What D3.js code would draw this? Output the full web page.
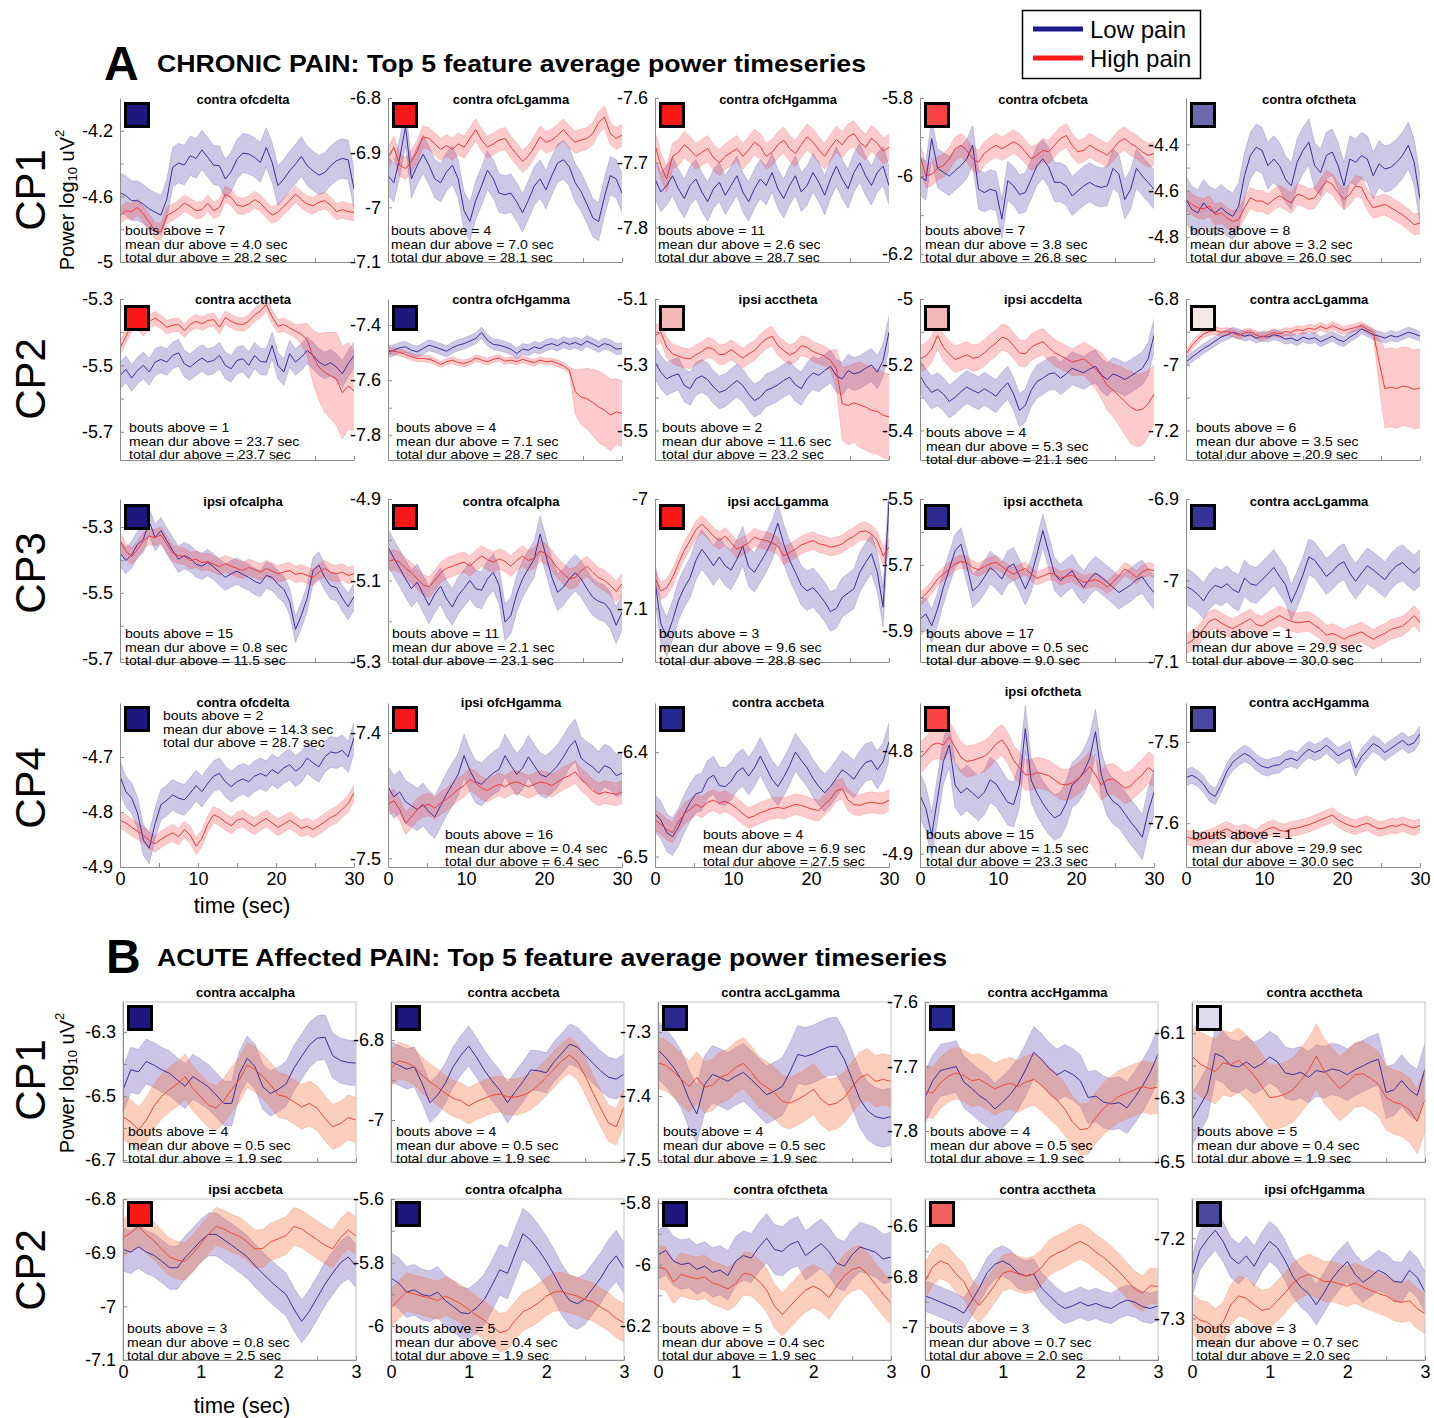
<!DOCTYPE html>
<html>
<head>
<meta charset="utf-8">
<title>Top 5 feature average power timeseries</title>
<script src="https://cdn.jsdelivr.net/npm/d3@7/dist/d3.min.js"></script>
<style>
  body { margin: 0; background: #fff; }
  svg text { font-family: "Liberation Sans", Arial, Helvetica, sans-serif; }
</style>
</head>
<body>
<svg id="chart" width="1434" height="1418"></svg>
<script>
// sample times (sec)
const timeChronic = [0,0.75,1.5,2.25,3,3.75,4.5,5.25,6,6.75,7.5,8.25,9,9.75,10.5,11.25,12,12.75,13.5,14.25,15,15.75,16.5,17.25,18,18.75,19.5,20.25,21,21.75,22.5,23.25,24,24.75,25.5,26.25,27,27.75,28.5,29.25,30];
const timeAcute = [0,0.1,0.2,0.3,0.4,0.5,0.6,0.7,0.8,0.9,1,1.1,1.2,1.3,1.4,1.5,1.6,1.7,1.8,1.9,2,2.1,2.2,2.3,2.4,2.5,2.6,2.7,2.8,2.9,3];

// ---- A: chronic pain, rows CP1..CP4, five features each ----
const chronicFeatures = [
  'contra ofcdelta','contra ofcLgamma','contra ofcHgamma','contra ofcbeta','contra ofctheta',
  'contra acctheta','contra ofcHgamma','ipsi acctheta','ipsi accdelta','contra accLgamma',
  'ipsi ofcalpha','contra ofcalpha','ipsi accLgamma','ipsi acctheta','contra accLgamma',
  'contra ofcdelta','ipsi ofcHgamma','contra accbeta','ipsi ofctheta','contra accHgamma'];
const chronicBouts = [7,4,11,7,8, 1,4,2,4,6, 15,11,3,17,1, 2,16,4,15,1];
const chronicMeanDur = ['4.0','7.0','2.6','3.8','3.2', '23.7','7.1','11.6','5.3','3.5', '0.8','2.1','9.6','0.5','29.9', '14.3','0.4','6.9','1.5','29.9'];
const chronicTotalDur = ['28.2','28.1','28.7','26.8','26.0', '23.7','28.7','23.2','21.1','20.9', '11.5','23.1','28.8','9.0','30.0', '28.7','6.4','27.5','23.3','30.0'];
const chronicYTicks = [
  [-4.2,-4.6,-5],[-6.8,-6.9,-7,-7.1],[-7.6,-7.7,-7.8],[-5.8,-6,-6.2],[-4.4,-4.6,-4.8],
  [-5.3,-5.5,-5.7],[-7.4,-7.6,-7.8],[-5.1,-5.3,-5.5],[-5,-5.2,-5.4],[-6.8,-7,-7.2],
  [-5.3,-5.5,-5.7],[-4.9,-5.1,-5.3],[-7,-7.1],[-5.5,-5.7,-5.9],[-6.9,-7,-7.1],
  [-4.7,-4.8,-4.9],[-7.4,-7.5],[-6.4,-6.5],[-4.8,-4.9],[-7.5,-7.6]];
const chronicYLimits = [
  [-5,-4.0],[-7.1,-6.8],[-7.853,-7.6],[-6.22,-5.8],[-4.907,-4.2],
  [-5.785,-5.3],[-7.89,-7.305],[-5.59,-5.1],[-5.49,-5.0],[-7.29,-6.8],
  [-5.71,-5.215],[-5.3,-4.9],[-7.149,-7.0],[-5.995,-5.5],[-7.1,-6.9],
  [-4.9,-4.602],[-7.507,-7.376],[-6.51,-6.353],[-4.913,-4.753],[-7.654,-7.452]];

// CP1
const chr11Low = [-4.576,-4.596,-4.626,-4.626,-4.647,-4.677,-4.697,-4.714,-4.616,-4.423,-4.397,-4.409,-4.352,-4.369,-4.316,-4.362,-4.409,-4.413,-4.494,-4.45,-4.373,-4.336,-4.342,-4.362,-4.393,-4.302,-4.393,-4.535,-4.494,-4.444,-4.403,-4.356,-4.413,-4.444,-4.47,-4.454,-4.413,-4.383,-4.369,-4.377,-4.555];
const chr11High = [-4.718,-4.687,-4.693,-4.667,-4.708,-4.758,-4.809,-4.815,-4.718,-4.697,-4.673,-4.641,-4.661,-4.687,-4.681,-4.641,-4.687,-4.667,-4.586,-4.606,-4.653,-4.661,-4.647,-4.62,-4.641,-4.681,-4.714,-4.697,-4.661,-4.626,-4.586,-4.62,-4.647,-4.657,-4.636,-4.626,-4.653,-4.693,-4.681,-4.693,-4.697];
const chr12Low = [-6.942,-6.955,-6.910,-6.852,-6.948,-6.923,-6.903,-6.923,-6.948,-6.955,-6.935,-6.923,-6.948,-7.006,-7.026,-6.987,-6.961,-6.932,-6.948,-6.974,-6.977,-6.974,-6.990,-7.010,-6.987,-6.961,-6.948,-6.968,-6.942,-6.919,-6.913,-6.926,-6.955,-6.971,-6.994,-7.019,-7.026,-6.981,-6.942,-6.948,-6.974];
const chr12High = [-6.910,-6.890,-6.923,-6.929,-6.916,-6.897,-6.871,-6.874,-6.884,-6.894,-6.887,-6.894,-6.884,-6.890,-6.874,-6.858,-6.877,-6.890,-6.884,-6.877,-6.874,-6.890,-6.903,-6.916,-6.906,-6.890,-6.871,-6.881,-6.877,-6.868,-6.858,-6.871,-6.881,-6.877,-6.874,-6.865,-6.845,-6.835,-6.865,-6.874,-6.868];
const chr13Low = [-7.725,-7.745,-7.735,-7.720,-7.740,-7.755,-7.735,-7.725,-7.745,-7.760,-7.740,-7.730,-7.750,-7.735,-7.720,-7.745,-7.760,-7.740,-7.725,-7.735,-7.715,-7.740,-7.755,-7.735,-7.720,-7.745,-7.735,-7.715,-7.730,-7.750,-7.725,-7.705,-7.725,-7.740,-7.715,-7.700,-7.720,-7.735,-7.715,-7.705,-7.735];
const chr13High = [-7.672,-7.705,-7.725,-7.690,-7.684,-7.672,-7.680,-7.690,-7.684,-7.678,-7.692,-7.700,-7.690,-7.684,-7.678,-7.690,-7.680,-7.668,-7.675,-7.690,-7.684,-7.672,-7.665,-7.678,-7.686,-7.672,-7.660,-7.668,-7.680,-7.690,-7.676,-7.664,-7.672,-7.660,-7.655,-7.668,-7.676,-7.662,-7.670,-7.682,-7.676];
const chr14Low = [-6.0,-6.012,-5.904,-5.98,-5.99,-6.0,-5.986,-5.973,-5.956,-5.921,-6.034,-6.042,-6.034,-6.038,-6.11,-6.012,-6.025,-6.047,-6.042,-6.008,-5.973,-5.956,-5.977,-6.016,-6.016,-6.025,-6.051,-6.038,-6.025,-6.016,-6.025,-6.029,-6.025,-5.98,-5.995,-6.06,-6.034,-5.98,-6.0,-6.016,-6.034];
const chr14High = [-5.947,-6.0,-5.995,-5.98,-5.973,-5.956,-5.93,-5.921,-5.934,-5.956,-5.964,-5.942,-5.93,-5.921,-5.93,-5.921,-5.912,-5.921,-5.938,-5.956,-5.947,-5.934,-5.938,-5.921,-5.904,-5.896,-5.921,-5.938,-5.934,-5.921,-5.93,-5.938,-5.947,-5.93,-5.912,-5.904,-5.917,-5.925,-5.938,-5.947,-5.942];
const chr15Low = [-4.637,-4.681,-4.695,-4.652,-4.681,-4.695,-4.673,-4.695,-4.71,-4.666,-4.535,-4.448,-4.412,-4.426,-4.492,-4.463,-4.492,-4.55,-4.579,-4.477,-4.426,-4.39,-4.492,-4.521,-4.448,-4.433,-4.492,-4.579,-4.463,-4.477,-4.448,-4.463,-4.535,-4.484,-4.506,-4.499,-4.477,-4.448,-4.404,-4.477,-4.637];
const chr15High = [-4.637,-4.659,-4.673,-4.678,-4.666,-4.703,-4.695,-4.717,-4.732,-4.724,-4.673,-4.63,-4.644,-4.644,-4.659,-4.637,-4.622,-4.637,-4.652,-4.615,-4.622,-4.637,-4.63,-4.593,-4.557,-4.572,-4.608,-4.637,-4.615,-4.579,-4.586,-4.637,-4.673,-4.666,-4.659,-4.673,-4.688,-4.703,-4.724,-4.746,-4.739];
// CP2
const chr21Low = [-5.531,-5.512,-5.538,-5.515,-5.5,-5.52,-5.49,-5.482,-5.49,-5.47,-5.462,-5.495,-5.505,-5.49,-5.478,-5.49,-5.485,-5.47,-5.5,-5.51,-5.485,-5.48,-5.5,-5.47,-5.488,-5.49,-5.44,-5.5,-5.52,-5.465,-5.49,-5.475,-5.455,-5.47,-5.49,-5.5,-5.492,-5.505,-5.525,-5.495,-5.47];
const chr21High = [-5.449,-5.413,-5.377,-5.372,-5.392,-5.367,-5.358,-5.369,-5.385,-5.379,-5.377,-5.395,-5.377,-5.367,-5.375,-5.365,-5.362,-5.385,-5.356,-5.367,-5.375,-5.377,-5.367,-5.348,-5.336,-5.317,-5.354,-5.382,-5.377,-5.387,-5.397,-5.406,-5.423,-5.474,-5.505,-5.521,-5.531,-5.541,-5.582,-5.562,-5.577];
const chr22Low = [-7.497,-7.491,-7.482,-7.479,-7.491,-7.497,-7.485,-7.473,-7.479,-7.487,-7.495,-7.482,-7.473,-7.467,-7.458,-7.448,-7.427,-7.455,-7.470,-7.473,-7.479,-7.487,-7.503,-7.487,-7.491,-7.479,-7.485,-7.473,-7.467,-7.475,-7.461,-7.470,-7.463,-7.473,-7.458,-7.468,-7.479,-7.467,-7.473,-7.487,-7.485];
const chr22High = [-7.491,-7.495,-7.499,-7.507,-7.515,-7.521,-7.521,-7.524,-7.531,-7.543,-7.533,-7.527,-7.536,-7.539,-7.533,-7.519,-7.527,-7.533,-7.524,-7.519,-7.531,-7.527,-7.533,-7.524,-7.531,-7.536,-7.527,-7.533,-7.531,-7.539,-7.548,-7.564,-7.642,-7.661,-7.667,-7.681,-7.697,-7.709,-7.727,-7.715,-7.721];
const chr23Low = [-5.292,-5.323,-5.343,-5.334,-5.328,-5.363,-5.373,-5.343,-5.334,-5.345,-5.368,-5.384,-5.378,-5.363,-5.348,-5.363,-5.389,-5.409,-5.399,-5.378,-5.371,-5.361,-5.348,-5.338,-5.361,-5.373,-5.343,-5.325,-5.332,-5.318,-5.305,-5.334,-5.343,-5.318,-5.328,-5.323,-5.311,-5.301,-5.323,-5.287,-5.201];
const chr23High = [-5.211,-5.201,-5.247,-5.267,-5.274,-5.28,-5.282,-5.27,-5.26,-5.247,-5.253,-5.27,-5.267,-5.254,-5.267,-5.28,-5.267,-5.257,-5.237,-5.222,-5.213,-5.242,-5.257,-5.27,-5.262,-5.242,-5.247,-5.26,-5.267,-5.274,-5.287,-5.313,-5.419,-5.424,-5.416,-5.422,-5.429,-5.439,-5.442,-5.454,-5.459];
const chr24Low = [-5.233,-5.263,-5.284,-5.275,-5.289,-5.312,-5.299,-5.282,-5.268,-5.278,-5.286,-5.273,-5.284,-5.296,-5.273,-5.255,-5.289,-5.339,-5.324,-5.278,-5.251,-5.241,-5.228,-5.225,-5.241,-5.228,-5.211,-5.218,-5.225,-5.213,-5.205,-5.231,-5.245,-5.228,-5.235,-5.245,-5.235,-5.223,-5.211,-5.182,-5.111];
const chr24High = [-5.182,-5.174,-5.152,-5.111,-5.147,-5.167,-5.184,-5.177,-5.17,-5.18,-5.177,-5.164,-5.147,-5.134,-5.116,-5.122,-5.142,-5.164,-5.167,-5.147,-5.137,-5.13,-5.147,-5.164,-5.172,-5.182,-5.192,-5.187,-5.182,-5.197,-5.213,-5.233,-5.263,-5.278,-5.294,-5.312,-5.329,-5.339,-5.336,-5.319,-5.289];
const chr25Low = [-6.992,-6.977,-6.964,-6.951,-6.94,-6.928,-6.916,-6.909,-6.901,-6.906,-6.913,-6.909,-6.919,-6.913,-6.916,-6.909,-6.913,-6.922,-6.919,-6.927,-6.916,-6.922,-6.918,-6.93,-6.922,-6.913,-6.924,-6.93,-6.916,-6.906,-6.891,-6.899,-6.909,-6.913,-6.919,-6.911,-6.916,-6.909,-6.901,-6.906,-6.913];
const chr25High = [-6.967,-6.942,-6.922,-6.906,-6.899,-6.896,-6.901,-6.899,-6.903,-6.911,-6.903,-6.901,-6.909,-6.916,-6.909,-6.903,-6.906,-6.899,-6.901,-6.893,-6.896,-6.889,-6.893,-6.883,-6.891,-6.881,-6.889,-6.896,-6.891,-6.886,-6.881,-6.893,-6.901,-6.99,-7.073,-7.068,-7.073,-7.065,-7.068,-7.075,-7.071];
// CP3
const chr31Low = [-5.379,-5.402,-5.384,-5.353,-5.337,-5.284,-5.332,-5.311,-5.342,-5.371,-5.398,-5.387,-5.395,-5.413,-5.419,-5.408,-5.421,-5.437,-5.453,-5.442,-5.434,-5.444,-5.453,-5.465,-5.472,-5.447,-5.453,-5.474,-5.489,-5.526,-5.611,-5.568,-5.516,-5.432,-5.416,-5.453,-5.479,-5.484,-5.516,-5.542,-5.511];
const chr31High = [-5.342,-5.374,-5.389,-5.368,-5.342,-5.328,-5.332,-5.324,-5.353,-5.379,-5.387,-5.389,-5.402,-5.398,-5.408,-5.405,-5.413,-5.421,-5.411,-5.419,-5.426,-5.432,-5.423,-5.429,-5.437,-5.426,-5.434,-5.442,-5.437,-5.432,-5.444,-5.44,-5.447,-5.453,-5.437,-5.426,-5.437,-5.442,-5.437,-5.447,-5.442];
const chr32Low = [-5.018,-5.045,-5.07,-5.096,-5.12,-5.104,-5.133,-5.161,-5.133,-5.114,-5.145,-5.165,-5.137,-5.119,-5.1,-5.12,-5.124,-5.096,-5.08,-5.112,-5.202,-5.186,-5.133,-5.096,-5.071,-5.047,-4.986,-5.039,-5.092,-5.129,-5.116,-5.096,-5.081,-5.096,-5.12,-5.141,-5.151,-5.156,-5.173,-5.21,-5.178];
const chr32High = [-5.053,-5.049,-5.055,-5.07,-5.081,-5.096,-5.111,-5.116,-5.1,-5.081,-5.07,-5.065,-5.059,-5.055,-5.065,-5.051,-5.04,-5.049,-5.055,-5.047,-5.053,-5.065,-5.051,-5.04,-5.051,-5.045,-5.027,-5.035,-5.051,-5.07,-5.084,-5.096,-5.093,-5.076,-5.065,-5.08,-5.093,-5.1,-5.112,-5.127,-5.108];
const chr33Low = [-7.075,-7.114,-7.126,-7.111,-7.093,-7.081,-7.072,-7.056,-7.046,-7.053,-7.061,-7.053,-7.061,-7.065,-7.055,-7.043,-7.062,-7.067,-7.058,-7.049,-7.038,-7.022,-7.041,-7.056,-7.067,-7.079,-7.084,-7.081,-7.087,-7.094,-7.103,-7.1,-7.09,-7.086,-7.082,-7.067,-7.058,-7.05,-7.067,-7.099,-7.002];
const chr33High = [-7.072,-7.084,-7.081,-7.072,-7.059,-7.047,-7.038,-7.028,-7.023,-7.028,-7.034,-7.038,-7.034,-7.04,-7.046,-7.043,-7.04,-7.035,-7.037,-7.038,-7.04,-7.043,-7.052,-7.049,-7.046,-7.042,-7.04,-7.038,-7.041,-7.042,-7.044,-7.043,-7.041,-7.037,-7.034,-7.03,-7.029,-7.032,-7.038,-7.052,-7.044];
const chr34Low = [-5.865,-5.849,-5.885,-5.834,-5.768,-5.713,-5.657,-5.637,-5.703,-5.779,-5.763,-5.738,-5.708,-5.723,-5.743,-5.708,-5.697,-5.733,-5.773,-5.733,-5.667,-5.596,-5.662,-5.728,-5.748,-5.733,-5.718,-5.748,-5.768,-5.743,-5.725,-5.738,-5.753,-5.768,-5.784,-5.773,-5.761,-5.745,-5.736,-5.763,-5.784];
const chr34High = [-5.804,-5.789,-5.768,-5.743,-5.728,-5.713,-5.697,-5.69,-5.694,-5.708,-5.715,-5.705,-5.697,-5.692,-5.705,-5.718,-5.728,-5.718,-5.711,-5.728,-5.741,-5.734,-5.726,-5.728,-5.741,-5.735,-5.731,-5.743,-5.753,-5.749,-5.745,-5.753,-5.768,-5.753,-5.733,-5.713,-5.723,-5.738,-5.721,-5.713,-5.718];
const chr35Low = [-7.007,-7.011,-7.017,-7.025,-7.013,-7.006,-7.009,-7.004,-7.011,-7.015,-6.997,-7.004,-7.006,-6.999,-6.992,-6.984,-6.995,-7.005,-7.027,-7.011,-6.993,-6.971,-6.975,-6.985,-6.995,-6.989,-6.981,-6.977,-6.991,-7.001,-6.991,-6.982,-6.987,-6.993,-6.999,-6.989,-6.982,-6.978,-6.985,-6.991,-6.984];
const chr35High = [-7.078,-7.074,-7.068,-7.059,-7.05,-7.047,-7.052,-7.056,-7.059,-7.055,-7.051,-7.047,-7.054,-7.056,-7.051,-7.047,-7.043,-7.047,-7.05,-7.052,-7.051,-7.05,-7.055,-7.06,-7.067,-7.065,-7.068,-7.072,-7.068,-7.066,-7.063,-7.068,-7.072,-7.068,-7.065,-7.06,-7.058,-7.056,-7.05,-7.043,-7.052];
// CP4
const chr41Low = [-4.735,-4.763,-4.775,-4.802,-4.851,-4.866,-4.821,-4.787,-4.779,-4.769,-4.775,-4.778,-4.766,-4.752,-4.763,-4.748,-4.735,-4.73,-4.745,-4.754,-4.745,-4.74,-4.745,-4.735,-4.73,-4.735,-4.723,-4.73,-4.72,-4.714,-4.726,-4.718,-4.702,-4.711,-4.718,-4.7,-4.691,-4.693,-4.688,-4.7,-4.665];
const chr41High = [-4.815,-4.820,-4.828,-4.835,-4.842,-4.852,-4.858,-4.850,-4.843,-4.838,-4.845,-4.832,-4.842,-4.862,-4.848,-4.822,-4.805,-4.810,-4.818,-4.825,-4.815,-4.812,-4.820,-4.826,-4.818,-4.812,-4.820,-4.828,-4.822,-4.815,-4.822,-4.830,-4.826,-4.832,-4.825,-4.818,-4.810,-4.805,-4.795,-4.785,-4.765];
const chr42Low = [-7.443,-7.451,-7.447,-7.455,-7.458,-7.461,-7.457,-7.463,-7.467,-7.458,-7.449,-7.441,-7.433,-7.418,-7.43,-7.439,-7.441,-7.436,-7.432,-7.429,-7.418,-7.426,-7.433,-7.428,-7.419,-7.426,-7.433,-7.435,-7.431,-7.426,-7.419,-7.411,-7.406,-7.42,-7.424,-7.427,-7.432,-7.426,-7.428,-7.434,-7.432];
const chr42High = [-7.457,-7.454,-7.461,-7.472,-7.467,-7.461,-7.458,-7.457,-7.46,-7.456,-7.453,-7.449,-7.445,-7.442,-7.437,-7.44,-7.444,-7.446,-7.443,-7.441,-7.443,-7.44,-7.439,-7.441,-7.443,-7.441,-7.439,-7.44,-7.442,-7.439,-7.436,-7.434,-7.431,-7.437,-7.441,-7.446,-7.449,-7.447,-7.448,-7.449,-7.447];
const chr43Low = [-6.459,-6.465,-6.477,-6.481,-6.472,-6.459,-6.448,-6.44,-6.438,-6.426,-6.422,-6.432,-6.433,-6.428,-6.419,-6.415,-6.423,-6.415,-6.404,-6.415,-6.426,-6.433,-6.424,-6.413,-6.4,-6.408,-6.415,-6.425,-6.433,-6.439,-6.433,-6.425,-6.417,-6.421,-6.426,-6.417,-6.41,-6.408,-6.417,-6.409,-6.39];
const chr43High = [-6.465,-6.469,-6.474,-6.477,-6.467,-6.459,-6.455,-6.45,-6.453,-6.448,-6.446,-6.449,-6.447,-6.45,-6.454,-6.459,-6.463,-6.461,-6.458,-6.456,-6.454,-6.453,-6.454,-6.452,-6.45,-6.451,-6.453,-6.455,-6.456,-6.45,-6.445,-6.437,-6.435,-6.446,-6.45,-6.451,-6.449,-6.448,-6.449,-6.449,-6.446];
const chr44Low = [-4.843,-4.856,-4.882,-4.846,-4.81,-4.794,-4.833,-4.841,-4.836,-4.841,-4.846,-4.84,-4.828,-4.832,-4.841,-4.85,-4.852,-4.833,-4.778,-4.828,-4.841,-4.851,-4.859,-4.865,-4.862,-4.851,-4.833,-4.828,-4.82,-4.807,-4.781,-4.823,-4.841,-4.849,-4.853,-4.861,-4.869,-4.876,-4.884,-4.859,-4.84];
const chr44High = [-4.807,-4.801,-4.794,-4.792,-4.794,-4.786,-4.796,-4.806,-4.81,-4.809,-4.807,-4.805,-4.8,-4.793,-4.789,-4.797,-4.809,-4.816,-4.823,-4.823,-4.821,-4.822,-4.824,-4.828,-4.832,-4.833,-4.831,-4.827,-4.822,-4.815,-4.823,-4.833,-4.828,-4.827,-4.831,-4.836,-4.834,-4.828,-4.823,-4.816,-4.82];
const chr45Low = [-7.544,-7.541,-7.545,-7.552,-7.563,-7.567,-7.553,-7.536,-7.525,-7.519,-7.514,-7.518,-7.525,-7.53,-7.532,-7.529,-7.528,-7.522,-7.52,-7.523,-7.515,-7.509,-7.513,-7.51,-7.504,-7.51,-7.517,-7.513,-7.509,-7.532,-7.518,-7.51,-7.502,-7.506,-7.513,-7.508,-7.503,-7.498,-7.504,-7.501,-7.49];
const chr45High = [-7.617,-7.619,-7.621,-7.619,-7.617,-7.614,-7.61,-7.607,-7.611,-7.613,-7.61,-7.614,-7.617,-7.611,-7.607,-7.605,-7.609,-7.61,-7.607,-7.606,-7.604,-7.602,-7.599,-7.596,-7.593,-7.59,-7.596,-7.6,-7.603,-7.605,-7.602,-7.6,-7.604,-7.607,-7.606,-7.603,-7.604,-7.601,-7.604,-7.606,-7.603];

// error band half widths (constant, or one value per sample where the band widens)
const chr21HighErr = [0.02,0.02,0.02,0.02,0.02,0.02,0.02,0.02,0.02,0.02,0.02,0.02,0.02,0.02,0.02,0.02,0.02,0.02,0.02,0.02,0.02,0.02,0.02,0.02,0.02,0.02,0.02,0.02,0.02,0.02,0.02,0.03,0.05,0.08,0.1,0.12,0.13,0.14,0.14,0.13,0.12];
const chr22HighErr = [0.012,0.012,0.012,0.012,0.012,0.012,0.012,0.012,0.012,0.012,0.012,0.012,0.012,0.012,0.012,0.012,0.012,0.012,0.012,0.012,0.012,0.012,0.012,0.012,0.012,0.012,0.012,0.012,0.012,0.012,0.012,0.012,0.08,0.1,0.11,0.12,0.13,0.13,0.13,0.12,0.12];
const chr23HighErr = [0.03,0.03,0.03,0.03,0.03,0.03,0.03,0.03,0.03,0.03,0.03,0.03,0.03,0.03,0.03,0.03,0.03,0.03,0.03,0.03,0.03,0.03,0.03,0.03,0.03,0.03,0.03,0.03,0.03,0.03,0.03,0.06,0.11,0.12,0.12,0.13,0.13,0.13,0.13,0.13,0.13];
const chr24HighErr = [0.04,0.04,0.04,0.04,0.04,0.04,0.04,0.04,0.04,0.04,0.04,0.04,0.04,0.04,0.04,0.04,0.04,0.04,0.04,0.04,0.04,0.04,0.04,0.04,0.04,0.04,0.04,0.045,0.05,0.055,0.06,0.07,0.075,0.08,0.09,0.1,0.11,0.11,0.11,0.1,0.09];
const chr25HighErr = [0.012,0.012,0.012,0.012,0.012,0.012,0.012,0.012,0.012,0.012,0.012,0.012,0.012,0.012,0.012,0.012,0.012,0.012,0.012,0.012,0.012,0.012,0.012,0.012,0.012,0.012,0.012,0.012,0.012,0.012,0.012,0.012,0.012,0.07,0.12,0.12,0.12,0.12,0.12,0.12,0.12];
const chronicLowErr = [0.12,0.035,0.03,0.05,0.1, 0.04,0.02,0.05,0.05,0.015, 0.04,0.045,0.018,0.05,0.022, 0.028,0.017,0.018,0.022,0.01];
const chronicHighErr = [0.05,0.02,0.02,0.03,0.045, chr21HighErr,chr22HighErr,chr23HighErr,chr24HighErr,chr25HighErr, 0.025,0.025,0.008,0.02,0.012, 0.015,0.009,0.01,0.015,0.009];

const chronicLow = [chr11Low,chr12Low,chr13Low,chr14Low,chr15Low, chr21Low,chr22Low,chr23Low,chr24Low,chr25Low, chr31Low,chr32Low,chr33Low,chr34Low,chr35Low, chr41Low,chr42Low,chr43Low,chr44Low,chr45Low];
const chronicHigh = [chr11High,chr12High,chr13High,chr14High,chr15High, chr21High,chr22High,chr23High,chr24High,chr25High, chr31High,chr32High,chr33High,chr34High,chr35High, chr41High,chr42High,chr43High,chr44High,chr45High];

// ---- B: acute affected pain, rows CP1..CP2 ----
const acuteFeatures = ['contra accalpha','contra accbeta','contra accLgamma','contra accHgamma','contra acctheta',
  'ipsi accbeta','contra ofcalpha','contra ofctheta','contra acctheta','ipsi ofcHgamma'];
const acuteBouts = [4,4,4,4,5, 3,5,5,3,3];
const acuteMeanDur = ['0.5','0.5','0.5','0.5','0.4', '0.8','0.4','0.4','0.7','0.7'];
const acuteTotalDur = ['1.9','1.9','1.9','1.9','1.9', '2.5','1.9','1.9','2.0','2.0'];
const acuteYTicks = [[-6.3,-6.5,-6.7],[-6.8,-7],[-7.3,-7.4,-7.5],[-7.6,-7.7,-7.8],[-6.1,-6.3,-6.5],
  [-6.8,-6.9,-7,-7.1],[-5.6,-5.8,-6],[-5.8,-6,-6.2],[-6.6,-6.8,-7],[-7.2,-7.3]];
const acuteYLimits = [[-6.706,-6.206],[-7.105,-6.705],[-7.503,-7.253],[-7.848,-7.6],[-6.5,-6.003],
  [-7.1,-6.8],[-6.107,-5.6],[-6.31,-5.787],[-7.13,-6.493],[-7.352,-7.151]];

const acu11Low = [-6.481,-6.418,-6.424,-6.392,-6.403,-6.418,-6.429,-6.45,-6.469,-6.439,-6.455,-6.471,-6.497,-6.523,-6.523,-6.429,-6.382,-6.408,-6.471,-6.492,-6.479,-6.462,-6.413,-6.376,-6.34,-6.319,-6.316,-6.374,-6.389,-6.395,-6.397];
const acu11High = [-6.565,-6.581,-6.605,-6.575,-6.531,-6.5,-6.479,-6.462,-6.439,-6.476,-6.502,-6.528,-6.538,-6.513,-6.479,-6.448,-6.403,-6.417,-6.439,-6.465,-6.497,-6.502,-6.518,-6.534,-6.523,-6.538,-6.57,-6.596,-6.586,-6.567,-6.575];
const acu12Low = [-6.854,-6.863,-6.873,-6.867,-6.908,-6.957,-6.938,-6.908,-6.867,-6.838,-6.815,-6.843,-6.875,-6.902,-6.925,-6.957,-6.929,-6.904,-6.875,-6.877,-6.882,-6.854,-6.833,-6.81,-6.818,-6.838,-6.858,-6.877,-6.893,-6.898,-6.885];
const acu12High = [-6.871,-6.852,-6.857,-6.867,-6.888,-6.904,-6.918,-6.933,-6.946,-6.952,-6.965,-6.954,-6.946,-6.938,-6.935,-6.942,-6.943,-6.938,-6.929,-6.913,-6.893,-6.873,-6.852,-6.838,-6.854,-6.89,-6.932,-6.971,-7.008,-7.017,-6.967];
const acu13Low = [-7.328,-7.34,-7.355,-7.374,-7.405,-7.428,-7.382,-7.366,-7.371,-7.377,-7.369,-7.363,-7.374,-7.386,-7.398,-7.392,-7.385,-7.362,-7.335,-7.338,-7.334,-7.328,-7.323,-7.322,-7.343,-7.374,-7.405,-7.423,-7.432,-7.435,-7.432];
const acu13High = [-7.348,-7.352,-7.362,-7.374,-7.385,-7.371,-7.386,-7.383,-7.371,-7.366,-7.355,-7.349,-7.362,-7.378,-7.386,-7.395,-7.408,-7.411,-7.405,-7.398,-7.389,-7.405,-7.414,-7.411,-7.402,-7.386,-7.371,-7.366,-7.377,-7.374,-7.377];
const acu14Low = [-7.748,-7.722,-7.706,-7.703,-7.7,-7.724,-7.734,-7.745,-7.753,-7.766,-7.755,-7.743,-7.727,-7.704,-7.678,-7.689,-7.703,-7.713,-7.706,-7.712,-7.722,-7.748,-7.746,-7.755,-7.758,-7.756,-7.764,-7.748,-7.73,-7.709,-7.681];
const acu14High = [-7.738,-7.741,-7.725,-7.715,-7.71,-7.714,-7.722,-7.72,-7.727,-7.735,-7.729,-7.726,-7.731,-7.724,-7.72,-7.729,-7.741,-7.752,-7.766,-7.786,-7.798,-7.796,-7.779,-7.765,-7.755,-7.746,-7.741,-7.736,-7.731,-7.734,-7.732];
const acu15Low = [-6.368,-6.326,-6.284,-6.163,-6.174,-6.2,-6.205,-6.189,-6.208,-6.195,-6.174,-6.189,-6.223,-6.229,-6.221,-6.237,-6.216,-6.221,-6.211,-6.216,-6.229,-6.213,-6.202,-6.189,-6.181,-6.284,-6.276,-6.247,-6.276,-6.293,-6.211];
const acu15High = [-6.171,-6.195,-6.208,-6.219,-6.192,-6.198,-6.184,-6.205,-6.232,-6.265,-6.3,-6.297,-6.289,-6.276,-6.247,-6.216,-6.171,-6.216,-6.244,-6.272,-6.253,-6.229,-6.226,-6.24,-6.258,-6.3,-6.314,-6.321,-6.339,-6.374,-6.305];
const acu21Low = [-6.894,-6.899,-6.889,-6.899,-6.905,-6.916,-6.928,-6.928,-6.909,-6.894,-6.878,-6.866,-6.866,-6.876,-6.886,-6.897,-6.908,-6.924,-6.939,-6.953,-6.966,-6.978,-7.005,-7.028,-7.009,-6.984,-6.959,-6.938,-6.919,-6.908,-6.925];
const acu21High = [-6.872,-6.863,-6.851,-6.866,-6.878,-6.894,-6.908,-6.914,-6.916,-6.901,-6.884,-6.866,-6.851,-6.856,-6.864,-6.869,-6.88,-6.893,-6.892,-6.88,-6.874,-6.868,-6.851,-6.856,-6.866,-6.876,-6.886,-6.893,-6.872,-6.858,-6.869];
const acu22Low = [-5.849,-5.865,-5.893,-5.886,-5.901,-5.906,-5.893,-5.92,-5.938,-5.958,-5.961,-5.943,-5.917,-5.872,-5.823,-5.834,-5.771,-5.709,-5.73,-5.761,-5.797,-5.839,-5.886,-5.92,-5.93,-5.914,-5.881,-5.849,-5.808,-5.779,-5.818];
const acu22High = [-5.943,-5.917,-5.893,-5.899,-5.906,-5.912,-5.92,-5.906,-5.917,-5.93,-5.948,-5.966,-5.982,-6.0,-6.021,-6.014,-5.982,-5.955,-5.943,-5.927,-5.906,-5.893,-5.891,-5.899,-5.906,-5.917,-5.924,-5.941,-5.955,-5.976,-5.99];
const acu23Low = [-5.968,-5.954,-5.989,-6.0,-5.995,-6.016,-6.005,-6.025,-6.018,-6.036,-5.989,-5.971,-5.979,-5.943,-5.914,-5.951,-5.957,-5.935,-5.924,-5.971,-5.951,-5.932,-5.957,-5.995,-6.005,-5.968,-5.943,-5.951,-5.96,-5.982,-5.975];
const acu23High = [-6.008,-6.014,-6.057,-6.032,-6.04,-6.046,-6.04,-6.059,-6.068,-6.079,-6.062,-6.029,-6.032,-6.054,-6.083,-6.135,-6.162,-6.135,-6.108,-6.083,-6.07,-6.083,-6.108,-6.07,-6.036,-6.016,-6.008,-6.032,-6.065,-6.097,-6.124];
const acu24Low = [-6.877,-6.888,-6.901,-6.914,-6.926,-6.945,-6.897,-6.845,-6.785,-6.751,-6.738,-6.755,-6.787,-6.797,-6.79,-6.845,-6.875,-6.906,-6.926,-6.916,-6.901,-6.916,-6.906,-6.919,-6.926,-6.906,-6.893,-6.901,-6.919,-6.926,-6.916];
const acu24High = [-6.819,-6.761,-6.738,-6.751,-6.79,-6.819,-6.88,-6.914,-6.875,-6.832,-6.787,-6.777,-6.79,-6.797,-6.79,-6.764,-6.725,-6.707,-6.694,-6.674,-6.661,-6.677,-6.703,-6.725,-6.751,-6.781,-6.815,-6.849,-6.867,-6.836,-6.839];
const acu25Low = [-7.248,-7.215,-7.201,-7.19,-7.204,-7.224,-7.232,-7.222,-7.235,-7.217,-7.204,-7.212,-7.228,-7.248,-7.261,-7.269,-7.283,-7.268,-7.251,-7.239,-7.229,-7.245,-7.255,-7.248,-7.24,-7.245,-7.254,-7.255,-7.24,-7.249,-7.267];
const acu25High = [-7.294,-7.302,-7.305,-7.313,-7.305,-7.283,-7.272,-7.275,-7.283,-7.29,-7.288,-7.278,-7.268,-7.256,-7.249,-7.245,-7.249,-7.254,-7.254,-7.257,-7.26,-7.256,-7.261,-7.265,-7.269,-7.272,-7.278,-7.28,-7.278,-7.288,-7.294];
const acuteLowErr = [0.07,0.05,0.045,0.04,0.08, 0.04,0.08,0.08,0.06,0.025];
const acuteHighErr = [0.07,0.045,0.04,0.04,0.1, 0.035,0.06,0.07,0.07,0.025];
const acuteLow = [acu11Low,acu12Low,acu13Low,acu14Low,acu15Low, acu21Low,acu22Low,acu23Low,acu24Low,acu25Low];
const acuteHigh = [acu11High,acu12High,acu13High,acu14High,acu15High, acu21High,acu22High,acu23High,acu24High,acu25High];

// ---- styling / layout ----
const chronicSquares = ['#1c1880','#f81818','#f81818','#f84242','#6b6bb0',
  '#f81818','#1c1880','#f4b8b8','#f2b8b8','#f6e6e6',
  '#1c1880','#f81818','#f81818','#2c2a90','#343498',
  '#1c1880','#f81818','#262690','#f84444','#4848a0'];
const acuteSquares = ['#1c1880','#1c1880','#282890','#262690','#dcdaec',
  '#f81818','#1c1880','#1c1880','#f46060','#4848a0'];
// [dx from axes left, first line centre from axes top]
const chronicStatsPos = [[5,133],[3,133],[3,133],[5,133],[4,133], [9,129],[8,129],[7,129],[6,134],[10,129],
  [5,135],[4,135],[4,135],[6,135],[6,135], [43,13],[57,132],[48,132],[6,132],[6,132]];
const STAT_SIZE = 12, STAT_STRETCH = 1.17, STAT_GAP = 13.5;

const svg = d3.select('#chart');
const FONT = '"Liberation Sans", Arial, Helvetica, sans-serif';
svg.append('rect').attr('width', 1434).attr('height', 1418).attr('fill', '#fff');
const defs = svg.append('defs');

const sections = [
  {
    id: 'chronic', time: timeChronic, xMax: 30, xTicks: [0,5,10,15,20,25,30], xLabelStep: 10,
    lefts: [120,388,655,920,1186], width: 234,
    tops: [98,299,499,703], bottoms: [262,460,662,867], titleDy: [1,0,2,-1],
    squareDy: [4,6,5,3], boxed: false,
    features: chronicFeatures, bouts: chronicBouts, meanDur: chronicMeanDur, totalDur: chronicTotalDur,
    yTicks: chronicYTicks, yLimits: chronicYLimits, low: chronicLow, high: chronicHigh,
    lowErr: chronicLowErr, highErr: chronicHighErr, squares: chronicSquares,
    statsPos: i => chronicStatsPos[i],
    lowBand: 'rgba(88,72,172,0.30)', highBand: 'rgba(246,62,62,0.27)',
    lowLine: '#3a2e9c', highLine: '#f03838'
  },
  {
    id: 'acute', time: timeAcute, xMax: 3, xTicks: [0,0.5,1,1.5,2,2.5,3], xLabelStep: 1,
    lefts: [123,391,658,925,1192], width: 233,
    tops: [1002,1199], bottoms: [1162,1360], titleDy: [-10,-10],
    squareDy: [3,2], boxed: true,
    features: acuteFeatures, bouts: acuteBouts, meanDur: acuteMeanDur, totalDur: acuteTotalDur,
    yTicks: acuteYTicks, yLimits: acuteYLimits, low: acuteLow, high: acuteHigh,
    lowErr: acuteLowErr, highErr: acuteHighErr, squares: acuteSquares,
    statsPos: i => [i < 5 ? 5 : 4, 130],
    lowBand: 'rgba(100,80,180,0.33)', highBand: 'rgba(244,118,74,0.36)',
    lowLine: '#3a2e9c', highLine: '#ee4a34'
  }
];

function styleAxis(g) {
  g.attr('font-family', FONT).attr('font-size', 18);
  g.select('.domain').attr('stroke', '#8c8c8c').attr('stroke-width', 1);
  g.selectAll('.tick line').attr('stroke', '#8c8c8c');
  g.selectAll('.tick text').attr('fill', '#000');
}

sections.forEach(sec => {
  const nRows = sec.tops.length;
  for (let r = 0; r < nRows; r++) {
    for (let c = 0; c < 5; c++) {
      const i = r * 5 + c;
      const left = sec.lefts[c], right = left + sec.width;
      const top = sec.tops[r], bottom = sec.bottoms[r];
      const x = d3.scaleLinear().domain([0, sec.xMax]).range([left, right]);
      const y = d3.scaleLinear().domain(sec.yLimits[i]).range([bottom, top]);
      const g = svg.append('g').attr('class', 'panel');

      const clipId = `clip-${sec.id}-${i}`;
      defs.append('clipPath').attr('id', clipId)
        .append('rect').attr('x', left).attr('y', top).attr('width', sec.width).attr('height', bottom - top);
      const plot = g.append('g').attr('clip-path', `url(#${clipId})`);

      const series = [
        { vals: sec.low[i], err: sec.lowErr[i], band: sec.lowBand, line: sec.lowLine },
        { vals: sec.high[i], err: sec.highErr[i], band: sec.highBand, line: sec.highLine }
      ];
      series.forEach(s => {
        const e = k => Array.isArray(s.err) ? s.err[k] : s.err;
        const area = d3.area()
          .x((d, k) => x(sec.time[k]))
          .y0((d, k) => y(d - e(k)))
          .y1((d, k) => y(d + e(k)));
        plot.append('path').datum(s.vals).attr('d', area).attr('fill', s.band).attr('stroke', 'none');
        [-1, 1].forEach(sign => {
          const edge = d3.line().x((d, k) => x(sec.time[k])).y((d, k) => y(d + sign * e(k)));
          plot.append('path').datum(s.vals).attr('d', edge)
            .attr('fill', 'none').attr('stroke', s.band).attr('stroke-width', 0.8);
        });
      });
      series.forEach(s => {
        const mean = d3.line().x((d, k) => x(sec.time[k])).y(d => y(d));
        plot.append('path').datum(s.vals).attr('d', mean)
          .attr('fill', 'none').attr('stroke', s.line).attr('stroke-width', 1);
      });

      if (sec.boxed) {
        g.append('rect').attr('x', left).attr('y', top).attr('width', sec.width).attr('height', bottom - top)
          .attr('fill', 'none').attr('stroke', '#c4c4c4');
      }

      // y axis with labelled ticks, plus unlabelled midpoints when labels are 0.2 apart or more
      const ticks = sec.yTicks[i];
      g.append('g').attr('transform', `translate(${left},0)`)
        .call(d3.axisLeft(y).tickValues(ticks).tickFormat(d => String(d))
          .tickSizeInner(-4).tickSizeOuter(0).tickPadding(7))
        .call(styleAxis);
      const minor = [];
      for (let k = 1; k < ticks.length; k++) {
        if (Math.abs(ticks[k] - ticks[k - 1]) > 0.15) minor.push((ticks[k] + ticks[k - 1]) / 2);
      }
      if (minor.length) {
        g.append('g').attr('transform', `translate(${left},0)`)
          .call(d3.axisLeft(y).tickValues(minor).tickFormat('').tickSizeInner(-4).tickSizeOuter(0))
          .call(styleAxis).select('.domain').remove();
      }

      const showX = r === nRows - 1;
      g.append('g').attr('transform', `translate(0,${bottom})`)
        .call(d3.axisBottom(x).tickValues(sec.xTicks)
          .tickFormat(d => (showX && Math.abs(d / sec.xLabelStep - Math.round(d / sec.xLabelStep)) < 1e-9) ? d : '')
          .tickSizeInner(-4).tickSizeOuter(0).tickPadding(5))
        .call(styleAxis);

      // colour square
      g.append('rect')
        .attr('x', left + 5.5).attr('y', top + sec.squareDy[r] + 1.5)
        .attr('width', 23).attr('height', 23)
        .attr('fill', sec.squares[i]).attr('stroke', '#000').attr('stroke-width', 3);

      // title
      const titleY = top + sec.titleDy[r] + (sec.id === 'chronic' && i === 18 ? -11 : 0);
      g.append('text').attr('x', left + sec.width / 2 + 6).attr('y', titleY)
        .attr('text-anchor', 'middle').attr('dominant-baseline', 'central')
        .attr('font-size', 13).attr('font-weight', 'bold').text(sec.features[i]);

      // bout statistics (slightly wide, tight lines as in the figure)
      const [dx, dy] = sec.statsPos(i);
      const stats = [`bouts above = ${sec.bouts[i]}`, `mean dur above = ${sec.meanDur[i]} sec`, `total dur above = ${sec.totalDur[i]} sec`];
      stats.forEach((s, k) => {
        g.append('text')
          .attr('transform', `translate(${left + dx},${top + dy + k * STAT_GAP}) scale(${STAT_STRETCH},1)`)
          .attr('dominant-baseline', 'central').attr('font-size', STAT_SIZE).attr('fill', '#000').text(s);
      });
    }
  }
});

// row labels
const rowLabels = [
  { text: 'CP1', y: 190 }, { text: 'CP2', y: 379 }, { text: 'CP3', y: 573 }, { text: 'CP4', y: 788 },
  { text: 'CP1', y: 1080 }, { text: 'CP2', y: 1270 }
];
rowLabels.forEach(d => {
  svg.append('text').attr('transform', `translate(30,${d.y}) rotate(-90)`)
    .attr('text-anchor', 'middle').attr('dominant-baseline', 'central')
    .attr('font-size', 42).text(d.text);
});

// y-axis unit labels
[200, 1083].forEach(cy => {
  const t = svg.append('text').attr('transform', `translate(67,${cy}) rotate(-90)`)
    .attr('text-anchor', 'middle').attr('dominant-baseline', 'central').attr('font-size', 20);
  t.append('tspan').text('Power log');
  t.append('tspan').attr('font-size', 13).attr('dy', 5).text('10');
  t.append('tspan').attr('dy', -5).text(' uV');
  t.append('tspan').attr('font-size', 13).attr('dy', -8).text('2');
});

// x-axis labels
[905, 1405].forEach(cy => {
  svg.append('text').attr('x', 242).attr('y', cy).attr('text-anchor', 'middle')
    .attr('dominant-baseline', 'central').attr('font-size', 22).text('time (sec)');
});

// section headings
svg.append('text').attr('x', 104).attr('y', 80).attr('font-size', 48).attr('font-weight', 'bold').text('A');
svg.append('text').attr('x', 157).attr('y', 72).attr('font-size', 24).attr('font-weight', 'bold')
  .attr('textLength', 709).attr('lengthAdjust', 'spacingAndGlyphs')
  .text('CHRONIC PAIN: Top 5 feature average power timeseries');
svg.append('text').attr('x', 106).attr('y', 973).attr('font-size', 48).attr('font-weight', 'bold').text('B');
svg.append('text').attr('x', 157).attr('y', 966).attr('font-size', 24).attr('font-weight', 'bold')
  .attr('textLength', 790).attr('lengthAdjust', 'spacingAndGlyphs')
  .text('ACUTE Affected PAIN: Top 5 feature average power timeseries');

// legend
const legendItems = [{ label: 'Low pain', color: '#1c1a8a', y: 29 }, { label: 'High pain', color: '#ff1a1a', y: 58 }];
const legend = svg.append('g');
legend.append('rect').attr('x', 1022.5).attr('y', 10.5).attr('width', 178).attr('height', 68)
  .attr('fill', '#fff').attr('stroke', '#000').attr('stroke-width', 1.5);
legendItems.forEach(d => {
  legend.append('line').attr('x1', 1033).attr('x2', 1083).attr('y1', d.y).attr('y2', d.y)
    .attr('stroke', d.color).attr('stroke-width', 5);
  legend.append('text').attr('x', 1090).attr('y', d.y).attr('dominant-baseline', 'central')
    .attr('font-size', 24).text(d.label);
});
</script>
</body>
</html>
